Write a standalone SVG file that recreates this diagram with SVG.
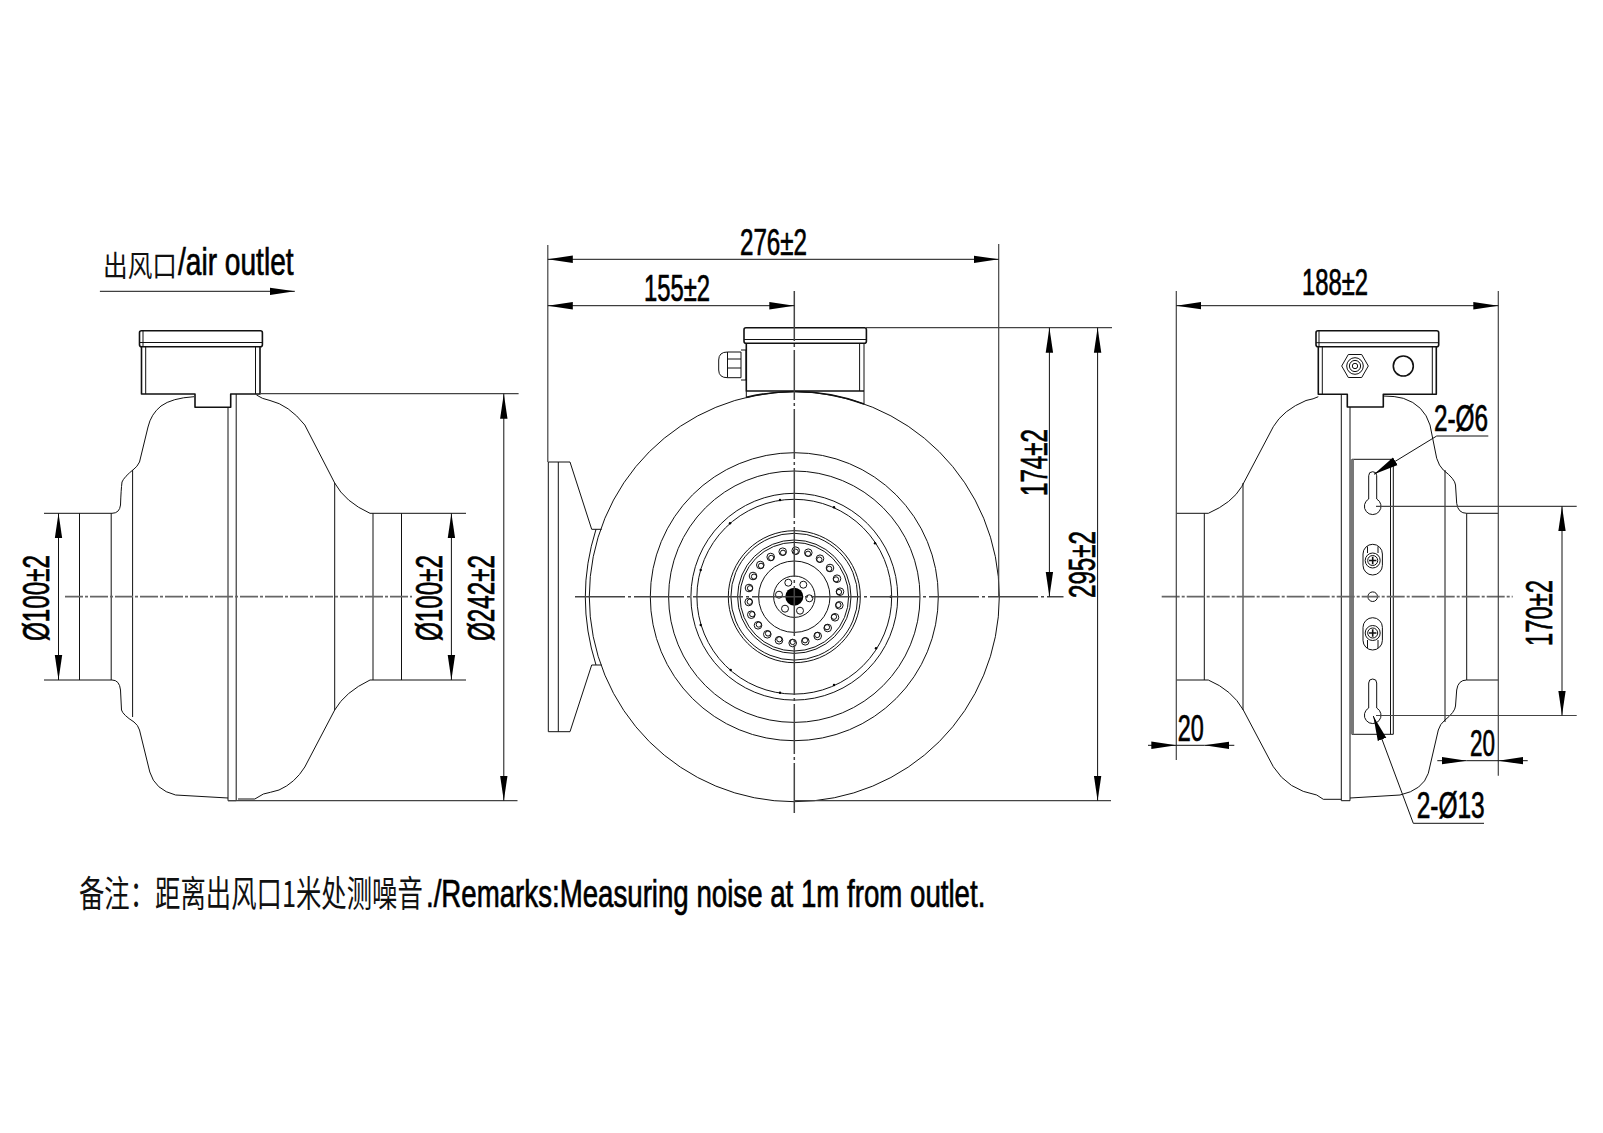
<svg xmlns="http://www.w3.org/2000/svg" width="1603" height="1133" viewBox="0 0 1603 1133">
<defs>
<style>
.l{fill:none;stroke:#111;stroke-width:1;stroke-linejoin:round}
.h{fill:none;stroke:#111;stroke-width:1.6;stroke-linejoin:round}
.g{fill:none;stroke:#444;stroke-width:1.2}
.c{fill:none;stroke:#666;stroke-width:1.7;stroke-dasharray:18 2 3 2}
.m{fill:none;stroke:#444;stroke-width:1.5;stroke-dasharray:50 3 3 3}
.d{fill:none;stroke:#111;stroke-width:1;marker-start:url(#a);marker-end:url(#a)}
.e{fill:none;stroke:#111;stroke-width:1;marker-end:url(#a)}
.w{fill:none;stroke:#111;stroke-width:1;marker-end:url(#b)}
.t{font-family:"Liberation Sans",Arial,sans-serif;font-size:36px;fill:#000;stroke:#000;stroke-width:.7}
.b{font-size:38px}
.k{font-family:"Noto Sans CJK SC","Liberation Sans",sans-serif;fill:#111}
</style>
<marker id="a" markerUnits="userSpaceOnUse" markerWidth="26" markerHeight="10" refX="25" refY="5" orient="auto-start-reverse"><path d="M0 1.3L25 5L0 8.7z" fill="#000"/></marker>
<marker id="b" markerUnits="userSpaceOnUse" markerWidth="26" markerHeight="12" refX="25" refY="6" orient="auto-start-reverse"><path d="M0 1.5L25 6L0 10.5z" fill="#000"/></marker>
</defs>
<rect width="1603" height="1133" fill="#fff"/>

<g id="left-view">
<rect class="h" x="139.5" y="330.7" width="122.9" height="16" rx="2"/>
<path class="l" d="M139.5 342.5H262.4M145.7 346.7V394M255.5 346.7V394M143 330.7V346.7"/>
<path class="h" d="M141.5 346.7V394H195V407.3H230.7V394H260V346.7"/>
<path class="l" d="M228 407.3V800.7H236.2V394"/>
<path class="l" d="M194 396.7Q172 398 161 406Q151 414 148 427L139.5 462Q137 467 134 469Q124 477 122 482Q121 490 120.5 505Q119.5 513.3 112 513.3H44"/>
<path class="l" d="M256.5 395Q262 399 270 400.5Q289 405 304.8 425L334.7 483Q345 502 370 513.3H466"/>
<path class="l" d="M228 798L175.6 795Q155 790 149.8 772L139.5 730Q138 725 134 722Q123 715 121.5 710Q121 700 120.5 690Q119.5 680 112 680H44"/>
<path class="l" d="M238 799H254.8L263.4 794Q270 792.5 279 790Q295 783 304.8 767L334.7 710Q345 692 370 680H466"/>
<path class="l" d="M79.5 513.3V680M111.2 513.3V680M132.6 470V717M334.7 483V710M373 513.3V680M401.5 513.3V680"/>
<path class="c" d="M65 596.7H412"/>
</g>

<g id="center-view">
<rect class="h" x="744" y="327.7" width="122.4" height="15.6" rx="2"/>
<path class="l" d="M744 339.5H866.4"/>
<path class="h" d="M746.3 343.3V391H864"/>
<path class="l" d="M864 343.3V404M859.6 343.3V391M746.3 391V397"/>
<path class="l" d="M718.7 360Q718.7 352 727.5 352H741V377.7H727.5Q718.7 377.7 718.7 370ZM727.5 352V377.7M741 350H746V380H741M727.5 359H741M727.5 368H741"/>
<path class="l" d="M548.3 462H570L591.7 529.3H601.7M558.3 462V731.7M548.3 731.7H570L591.7 665H601.7M596 529.3Q574.6 597 596 665M548.3 462V731.7"/>
<circle class="l" cx="794.3" cy="596.7" r="205"/>
<path class="h" d="M746.3 397.4A205 205 0 0 1 864 403.9"/>
<circle class="l" cx="794.3" cy="596.7" r="144"/>
<circle class="l" cx="794.3" cy="596.7" r="125.7"/>
<circle class="l" cx="794.3" cy="596.7" r="103.4"/>
<circle class="l" cx="794.3" cy="596.7" r="97.4"/>
<circle class="l" cx="794.3" cy="596.7" r="66"/>
<circle class="l" cx="794.3" cy="596.7" r="63.4"/>
<circle class="l" cx="794.3" cy="596.7" r="56.7"/>
<circle class="l" cx="794.3" cy="596.7" r="54.3"/>
<circle class="l" cx="794.3" cy="596.7" r="35.7"/>
<circle class="l" cx="794.3" cy="596.7" r="20.7"/>
<circle cx="794.3" cy="596.7" r="9" fill="#000"/>
<g fill="#000">
<circle cx="730" cy="523.3" r="1.2"/><circle cx="780" cy="500" r="1.2"/><circle cx="834" cy="507.3" r="1.2"/><circle cx="875" cy="543.3" r="1.2"/><circle cx="890.7" cy="596.7" r="1.2"/><circle cx="876" cy="648.3" r="1.2"/><circle cx="834" cy="685" r="1.2"/><circle cx="780" cy="692.7" r="1.2"/><circle cx="730.7" cy="670" r="1.2"/><circle cx="700.7" cy="625" r="1.2"/><circle cx="700.7" cy="570" r="1.2"/>
</g>
<g class="l">
<circle cx="788.3" cy="582.7" r="3.5"/><circle cx="803.3" cy="584.7" r="3.5"/><circle cx="809.3" cy="598.3" r="3.5"/><circle cx="800" cy="610.7" r="3.5"/><circle cx="785" cy="608.7" r="3.5"/><circle cx="779" cy="594.7" r="3.5"/>
<circle cx="795.7" cy="550.7" r="3.8"/><circle cx="808.3" cy="552.7" r="3.8"/><circle cx="820" cy="558.7" r="3.8"/><circle cx="830" cy="568" r="3.8"/><circle cx="837" cy="578.7" r="3.8"/><circle cx="840" cy="591.7" r="3.8"/><circle cx="839.3" cy="605.3" r="3.8"/><circle cx="835" cy="617.3" r="3.8"/><circle cx="827.7" cy="628" r="3.8"/><circle cx="817.7" cy="636" r="3.8"/><circle cx="805.3" cy="641.3" r="3.8"/><circle cx="792.7" cy="643" r="3.8"/><circle cx="779" cy="640.3" r="3.8"/><circle cx="767.3" cy="634.3" r="3.8"/><circle cx="758" cy="625.3" r="3.8"/><circle cx="751.3" cy="614.7" r="3.8"/><circle cx="748.7" cy="602" r="3.8"/><circle cx="749" cy="588" r="3.8"/><circle cx="753" cy="576" r="3.8"/><circle cx="760.3" cy="565" r="3.8"/><circle cx="770.7" cy="557" r="3.8"/><circle cx="782.7" cy="551.7" r="3.8"/>
<circle cx="795.7" cy="551.7" r="2.6"/><circle cx="808" cy="553.7" r="2.6"/><circle cx="819.4" cy="559.6" r="2.6"/><circle cx="829.2" cy="568.8" r="2.6"/><circle cx="836" cy="579.4" r="2.6"/><circle cx="839" cy="592" r="2.6"/><circle cx="838.4" cy="605" r="2.6"/><circle cx="834" cy="616.8" r="2.6"/><circle cx="827" cy="627.2" r="2.6"/><circle cx="817.2" cy="635" r="2.6"/><circle cx="805" cy="640.3" r="2.6"/><circle cx="792.7" cy="642" r="2.6"/><circle cx="779.3" cy="639.3" r="2.6"/><circle cx="768" cy="633.5" r="2.6"/><circle cx="758.8" cy="624.6" r="2.6"/><circle cx="752.2" cy="614.2" r="2.6"/><circle cx="749.7" cy="601.8" r="2.6"/><circle cx="750" cy="588.2" r="2.6"/><circle cx="754" cy="576.6" r="2.6"/><circle cx="761" cy="565.8" r="2.6"/><circle cx="771.2" cy="557.9" r="2.6"/><circle cx="783" cy="552.7" r="2.6"/>
</g>
<path class="m" d="M575 596.7H1063.5M794.3 291V813"/>
</g>

<g id="right-view">
<rect class="h" x="1316" y="330.7" width="122.7" height="16" rx="2"/>
<path class="l" d="M1316 342.7H1438.7M1322.3 346.7V394M1432.3 346.7V394M1319 330.7V346.7"/>
<path class="h" d="M1318.3 346.7V394.3H1347.3V407H1383.3V394.3H1436.3V346.7"/>
<path class="l" d="M1341.3 394.3V800.7H1350V407"/>
<path class="l" d="M1176.3 513.3H1208.3Q1232 503 1241.7 486.7L1273.3 426.7Q1283 410 1306 400.5Q1314 399 1318.3 396.7"/>
<path class="l" d="M1383.3 396Q1395 396 1403.3 398.3Q1424 405 1430 425L1436.7 458.3Q1439 466 1443.3 470Q1455 479 1455.5 485L1456.7 503.3Q1458 513.3 1466.7 513.3H1498.3"/>
<path class="l" d="M1176.3 680H1208.3Q1232 690 1243.3 710L1273.3 766.7Q1288 790 1316.7 795L1323.3 799.3H1341.3"/>
<path class="l" d="M1350 798L1400 795Q1423 790 1428.3 773.3L1438.3 730Q1440 724 1445 720Q1455 712 1455.5 706L1456.7 690Q1458 680 1466.7 680H1498.3"/>
<path class="l" d="M1204.3 513.3V680M1243 483V710M1445 470V722M1466.7 513.3V680"/>
<polygon class="l" points="1341.7,366 1348.3,354.5 1361.7,354.5 1368.3,366 1361.7,377.5 1348.3,377.5"/>
<circle class="l" cx="1355" cy="366" r="8.3"/><circle class="l" cx="1355" cy="366" r="5.6"/><circle class="l" cx="1355" cy="366" r="2.7"/>
<circle class="h" cx="1403.3" cy="366" r="10"/>
<rect class="l" x="1352" y="459.3" width="41.3" height="275"/>
<rect x="1350" y="459.3" width="4" height="275" fill="#777"/>
<path class="l" d="M1390.5 459.3V734.3"/>
<path class="l" d="M1368.7 499V475.7A4 4 0 0 1 1376.7 475.7V499A8.3 8.3 0 1 1 1368.7 499Z"/>
<path class="l" d="M1368.7 708V683A4 4 0 0 1 1376.7 683V708A8.3 8.3 0 1 1 1368.7 708Z"/>
<rect class="l" x="1363" y="544.3" width="19.4" height="30.7" rx="9.7"/>
<rect class="l" x="1363" y="617.7" width="19.4" height="32.3" rx="9.7"/>
<circle class="l" cx="1372.7" cy="560.5" r="7.5"/><circle class="l" cx="1372.7" cy="560.5" r="5"/>
<circle class="l" cx="1372.7" cy="633" r="7.5"/><circle class="l" cx="1372.7" cy="633" r="5"/>
<path class="h" d="M1369 560.5H1376.4M1372.7 556.8V564.2M1369 633H1376.4M1372.7 629.3V636.7"/>
<path class="l" d="M1367.5 553V546.5M1378 553V546.5M1367.5 640V648M1378 640V648"/>
<circle class="l" cx="1372.7" cy="596.7" r="4.8"/>
<path class="c" d="M1161.7 596.7H1512.7"/>
</g>

<g id="connectors">
<path class="g" d="M260 393.7H518.6M228 800.7H517.5M866 327.7H1112M794 800.7H1111M1376 506.3H1576.7M1376 715.5H1576.7"/>
<path class="g" d="M547.8 245V462M998.7 244V596.7M1176.3 291V760M1498.3 291V775.7"/>
<path class="d" d="M58.5 513.3V680"/>
<path class="d" d="M451.4 513.3V680"/>
<path class="d" d="M503.8 393.7V800.7"/>
<path class="d" d="M547.8 259.3H998.7"/>
<path class="d" d="M547.8 305.7H794.3"/>
<path class="d" d="M1049.4 327.7V596.7"/>
<path class="d" d="M1097.6 327.7V800.7"/>
<path class="d" d="M1176.3 305.7H1498.3"/>
<path class="d" d="M1562 506.3V715.5"/>
<path class="e" d="M99.9 291.3H294.8"/>
<path class="e" d="M1148 745.3H1176.3"/>
<path class="e" d="M1234.3 745.3H1204.3"/>
<path class="e" d="M1437.3 760.7H1466.7"/>
<path class="e" d="M1527.7 760.7H1498.3"/>
<path class="l" d="M1176.3 745.3H1204.3M1466.7 760.7H1498.3"/>
<path class="w" d="M1436.7 436L1374 474.3"/>
<path class="l" d="M1436.7 436H1488.3"/>
<path class="w" d="M1413.3 823.3L1373.3 716"/>
<path class="l" d="M1413.3 823.3H1484"/>
</g>

<g id="labels">
<text class="k" font-size="29" transform="translate(103 277) scale(.85 1)">出风口</text>
<text class="t b" transform="translate(178 275) scale(.74 1)">/air outlet</text>
<text class="t" x="740" y="255" textLength="67" lengthAdjust="spacingAndGlyphs">276±2</text>
<text class="t" x="644" y="301" textLength="66" lengthAdjust="spacingAndGlyphs">155±2</text>
<text class="t" x="1302" y="295" textLength="66" lengthAdjust="spacingAndGlyphs">188±2</text>
<text class="t" transform="translate(49 641) rotate(-90)" textLength="86" lengthAdjust="spacingAndGlyphs">Ø100±2</text>
<text class="t" transform="translate(441.8 641) rotate(-90)" textLength="86" lengthAdjust="spacingAndGlyphs">Ø100±2</text>
<text class="t" transform="translate(494 641) rotate(-90)" textLength="86" lengthAdjust="spacingAndGlyphs">Ø242±2</text>
<text class="t" transform="translate(1047 496) rotate(-90)" textLength="67" lengthAdjust="spacingAndGlyphs">174±2</text>
<text class="t" transform="translate(1095 598) rotate(-90)" textLength="67" lengthAdjust="spacingAndGlyphs">295±2</text>
<text class="t" transform="translate(1551.7 646) rotate(-90)" textLength="66" lengthAdjust="spacingAndGlyphs">170±2</text>
<text class="t" x="1434" y="430.7" textLength="54" lengthAdjust="spacingAndGlyphs">2-Ø6</text>
<text class="t" x="1416.7" y="817.7" textLength="68" lengthAdjust="spacingAndGlyphs">2-Ø13</text>
<text class="t" x="1177.7" y="740.7" textLength="26" lengthAdjust="spacingAndGlyphs">20</text>
<text class="t" x="1470" y="756" textLength="25" lengthAdjust="spacingAndGlyphs">20</text>
<text class="k" font-size="36" transform="translate(79 907) scale(.705 1)">备注：距离出风口1米处测噪音</text>
<text class="t b" transform="translate(426 907) scale(.728 1)">./Remarks:Measuring noise at 1m from outlet.</text>
</g>
</svg>
